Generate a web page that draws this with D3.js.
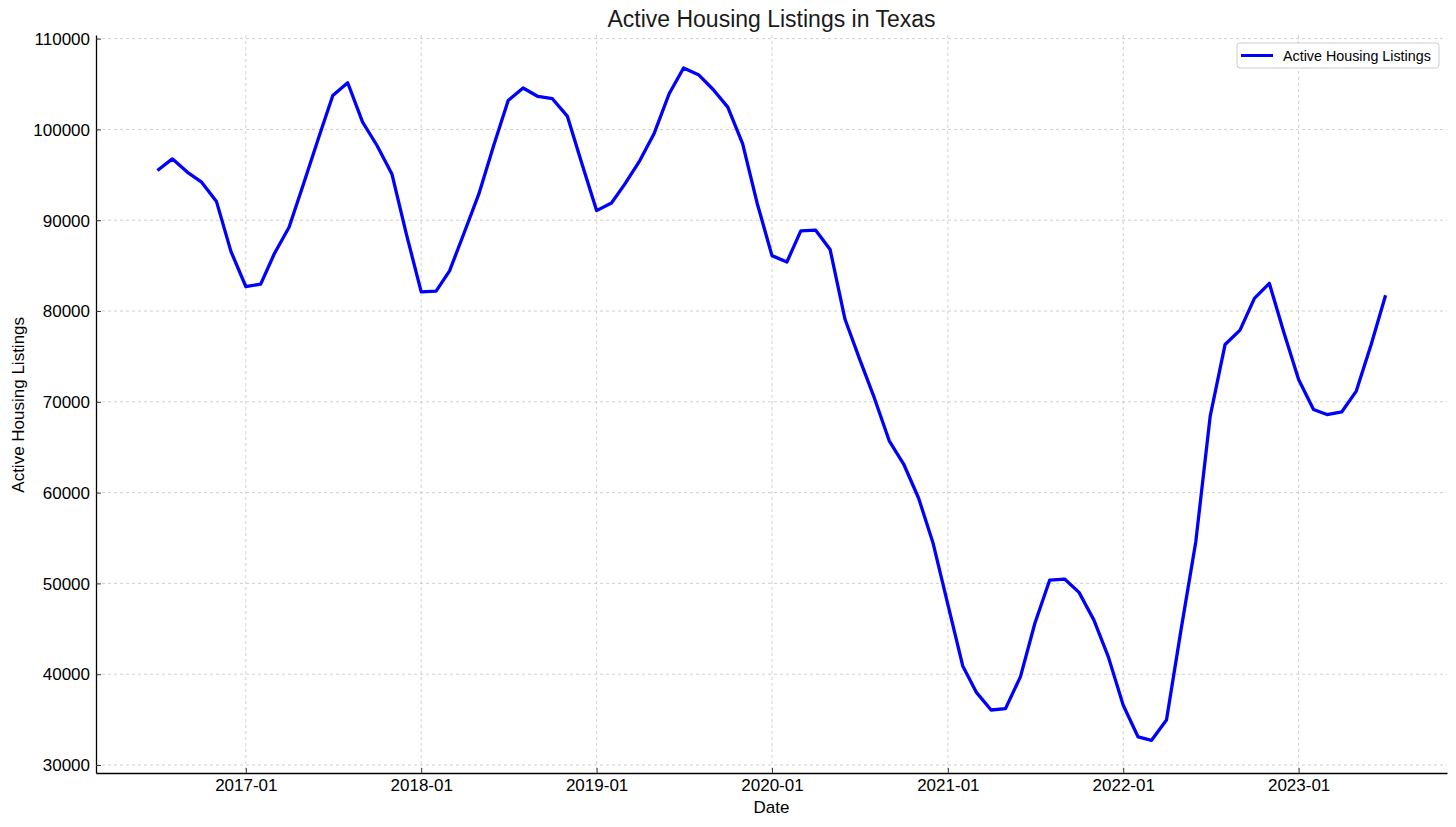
<!DOCTYPE html>
<html>
<head>
<meta charset="utf-8">
<script src="https://cdn.jsdelivr.net/npm/d3@7"></script>
<style>
  body { margin: 0; background: #fff; }
  svg { font-family: "Liberation Sans", Arial, sans-serif; }
</style>
</head>
<body>
<svg id="chart" width="1456" height="827"></svg>
<script>
// monthly listings, Jul 2016 .. Jul 2023
var startMonth = "2016-07";
var listings = [
  95470, 96760, 95300, 94190, 92050, 86570,
  82700, 82960, 86280, 89220, 94000, 99000, 103740, 105140, 100800, 98230, 95100, 88500,
  82100, 82200, 84430, 88700, 92900, 98250, 103190, 104560, 103630, 103380, 101470, 96300,
  91060, 91900, 94000, 96570, 99590, 103930, 106760, 106030, 104370, 102460, 98410, 91900,
  86100, 85400, 88820, 88900, 86770, 79090, 74760, 70430, 65710, 63150, 59410, 54490,
  47700, 40910, 38030, 36060, 36210, 39710, 45590, 50370, 50480, 49010, 45960, 41910,
  36580, 33090, 32720, 34950, 44800, 54600, 68420, 76320, 77900, 81400, 83050, 77700,
  72460, 69160, 68600, 68900, 71180, 76320, 81730
];
var yTicks = [30000, 40000, 50000, 60000, 70000, 80000, 90000, 100000, 110000];
var xTickLabels = ["2017-01", "2018-01", "2019-01", "2020-01", "2021-01", "2022-01", "2023-01"];

var parseMonth = d3.timeParse("%Y-%m");
var fmtMonth = d3.timeFormat("%Y-%m");
var data = listings.map(function(v, i) {
  return { Month: d3.timeMonth.offset(parseMonth(startMonth), i), value: v };
});

var margin = { top: 35, right: 9, bottom: 54, left: 96 };
var width = 1456 - margin.left - margin.right;
var height = 827 - margin.top - margin.bottom;

var svg = d3.select("#chart");
var g = svg.append("g").attr("transform", "translate(" + margin.left + "," + margin.top + ")");

// matplotlib-like 5% padding around the data
var ext = d3.extent(data, function(d) { return d.Month; });
var pad = (ext[1] - ext[0]) * 0.05;
var x = d3.scaleTime()
    .domain([new Date(+ext[0] - pad), new Date(+ext[1] + pad)])
    .range([0, width]);
var y = d3.scaleLinear().domain([29120, 110400]).range([height, 0]);

var xTicks = xTickLabels.map(parseMonth);

// grid
g.append("g").selectAll("line").data(yTicks).enter().append("line")
    .attr("x1", 0).attr("x2", width)
    .attr("y1", function(d) { return y(d); }).attr("y2", function(d) { return y(d); })
    .attr("stroke", "#c4c4c4").attr("stroke-width", 0.8).attr("stroke-dasharray", "3,3");
g.append("g").selectAll("line").data(xTicks).enter().append("line")
    .attr("y1", 0).attr("y2", height)
    .attr("x1", function(d) { return x(d); }).attr("x2", function(d) { return x(d); })
    .attr("stroke", "#c4c4c4").attr("stroke-width", 0.8).attr("stroke-dasharray", "3,3");

// axes, ticks pointing in
var xAxis = g.append("g").attr("transform", "translate(0," + height + ")")
    .call(d3.axisBottom(x).tickValues(xTicks).tickFormat(fmtMonth).tickSizeInner(-5).tickSizeOuter(0).tickPadding(11));
var yAxis = g.append("g")
    .call(d3.axisLeft(y).tickValues(yTicks).tickFormat(d3.format("d")).tickSizeInner(-5).tickSizeOuter(0).tickPadding(11));
[xAxis, yAxis].forEach(function(a) {
  a.select(".domain").attr("stroke", "#000").attr("stroke-width", 1.3);
  a.selectAll(".tick line").attr("stroke", "#333").attr("stroke-width", 1);
  a.selectAll(".tick text").attr("font-size", 17).attr("fill", "#000")
      .attr("font-family", "Liberation Sans, Arial, sans-serif");
});
yAxis.selectAll(".tick text").attr("dy", "0.34em").attr("x", -6);
xAxis.selectAll(".tick text").attr("y", 6);

var line = d3.line()
    .x(function(d) { return x(d.Month); })
    .y(function(d) { return y(d.value); });

g.append("path").datum(data)
    .attr("fill", "none")
    .attr("stroke", "#0000ff")
    .attr("stroke-width", 3.3)
    .attr("stroke-linejoin", "round")
    .attr("d", line);

// titles
svg.append("text").attr("x", margin.left + width / 2).attr("y", 27)
    .attr("text-anchor", "middle").attr("font-size", 23).attr("fill", "#1a1a1a")
    .text("Active Housing Listings in Texas");
svg.append("text").attr("x", margin.left + width / 2).attr("y", 813)
    .attr("text-anchor", "middle").attr("font-size", 17).attr("fill", "#000")
    .text("Date");
svg.append("text")
    .attr("transform", "translate(24," + (margin.top + y(70000) + 3) + ") rotate(-90)")
    .attr("text-anchor", "middle").attr("font-size", 17).attr("fill", "#000")
    .text("Active Housing Listings");

// legend
var lg = svg.append("g").attr("transform", "translate(1237,43)");
lg.append("rect").attr("width", 202).attr("height", 25).attr("rx", 3)
    .attr("fill", "#fff").attr("stroke", "#cccccc").attr("stroke-width", 1);
lg.append("line").attr("x1", 4).attr("x2", 36).attr("y1", 12.5).attr("y2", 12.5)
    .attr("stroke", "#0000ff").attr("stroke-width", 3);
lg.append("text").attr("x", 46).attr("y", 17.5).attr("font-size", 14.3).attr("fill", "#000")
    .text("Active Housing Listings");
</script>
</body>
</html>
